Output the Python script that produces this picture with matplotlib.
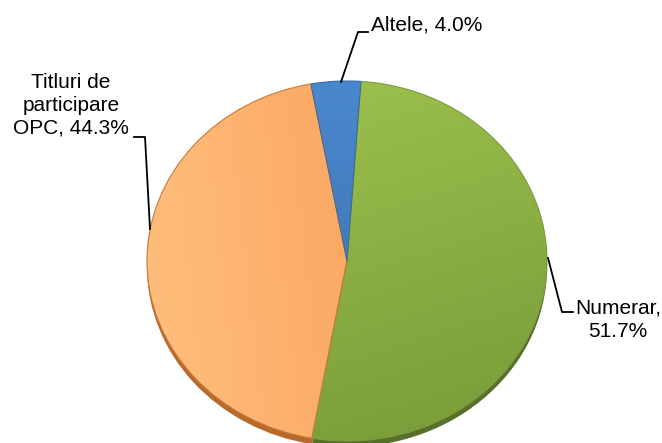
import numpy as np
import matplotlib
matplotlib.use("Agg")
import matplotlib.pyplot as plt
from matplotlib.colors import LinearSegmentedColormap

plt.rcParams['font.family'] = ['Liberation Sans', 'DejaVu Sans']

labels = ['Numerar', 'Titluri de\nparticipare\nOPC', 'Altele']
values = [51.7, 44.3, 4.0]
base_colors = ['#8fb044', '#fba35a', '#4379bd']
light_colors = ['#a0c54f', '#ffbf7e', '#4a88cd']
dark_colors = ['#779a38', '#f7954a', '#3a6cab']
side_colors = ['#56702a', '#b8692c', '#2d5487']
edge_colors = ['#7d9c3c', '#c77a3c', '#3a6aa5']

W, H = 662, 443
fig = plt.figure(figsize=(W / 100, H / 100), dpi=100)

# pie geometry in pixels
cx, cy, rx, ry = 347, 261, 200, 180
ax = fig.add_axes([0, 0, 1, 1])

start = 86

# 3D side of the pie (darker, shifted down)
side, _ = ax.pie(values, colors=side_colors, startangle=start, counterclock=False,
                 center=(0, -6 / ry), radius=1.0, frame=True,
                 wedgeprops=dict(linewidth=0))
wedges, _ = ax.pie(values, colors=base_colors, startangle=start, counterclock=False,
                   center=(0, 0), radius=1.0, frame=True,
                   wedgeprops=dict(linewidth=0.8))

# gradients
yy, xx = np.mgrid[1:-1:200j, -1:1:200j]
grads = [
    (xx * 0.35 - yy) / 1.6,
    (xx * 1.0 + 0.1 * yy) / 1.2,
    -yy,
]
for w, g, lc, dc, ec in zip(wedges, grads, light_colors, dark_colors, edge_colors):
    cmap = LinearSegmentedColormap.from_list('g', [lc, dc])
    im = ax.imshow((g - g.min()) / (g.max() - g.min()), cmap=cmap, extent=(-1, 1, -1, 1),
                   origin='upper', zorder=w.get_zorder() + 0.1, aspect='auto')
    im.set_clip_path(w)
    w.set_edgecolor(ec)
    w.set_zorder(w.get_zorder() + 0.2)
    w.set_facecolor('none')

ax.set_aspect('auto')
ax.set_xlim((0 - cx) / rx, (W - cx) / rx)
ax.set_ylim((cy - H) / ry, (cy - 0) / ry)
ax.axis('off')

# overlay in pixel coordinates for labels
ov = fig.add_axes([0, 0, 1, 1], facecolor='none')
ov.set_xlim(0, W)
ov.set_ylim(H, 0)
ov.axis('off')

fs = 15
ov.text(371, 25, 'Altele, 4.0%', fontsize=fs, ha='left', va='center')
ov.plot([368, 358, 341], [32, 32, 82], color='black', lw=1.3)

ov.text(71, 105, 'Titluri de\nparticipare\nOPC, 44.3%', fontsize=fs, ha='center',
        va='center', multialignment='center', linespacing=1.25)
ov.plot([134, 145, 150], [137, 137, 229], color='black', lw=1.3)

ov.text(618, 320, 'Numerar,\n51.7%', fontsize=fs, ha='center', va='center',
        multialignment='center', linespacing=1.3)
ov.plot([548, 562, 573], [258, 312, 312], color='black', lw=1.3)

fig.savefig('out.png', dpi=100)
